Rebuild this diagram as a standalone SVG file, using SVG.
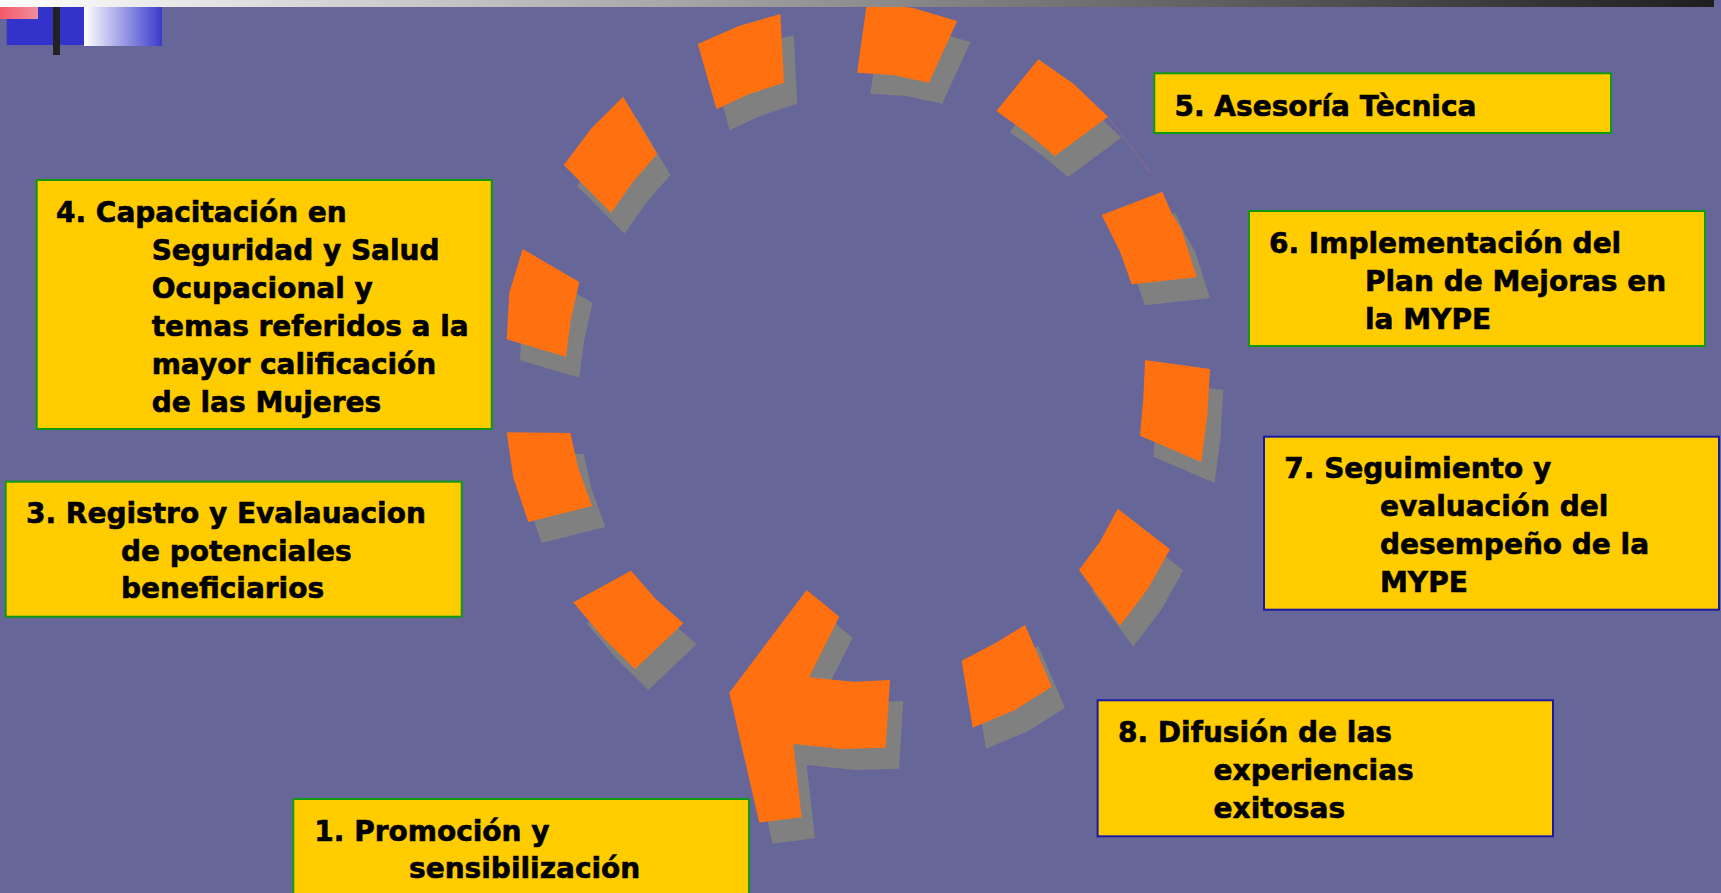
<svg xmlns="http://www.w3.org/2000/svg" xmlns:xlink="http://www.w3.org/1999/xlink" width="1721" height="893" viewBox="0 0 1721 893">
<style>
.bg{fill:#666699}
.box{fill:#ffcc00;stroke:#119911;stroke-width:2}
.box.blue{stroke:#1a1aa0}
.lbl{font-family:"DejaVu Sans","Verdana",sans-serif;font-weight:bold;font-size:28px;fill:#000;stroke:#000;stroke-width:0.6}
.seg{fill:#ff7010}
.shadow{fill:#808080}
</style>
<defs>
<linearGradient id="topbar" x1="0" y1="0" x2="1" y2="0">
<stop offset="0" stop-color="#ffffff"/>
<stop offset="1" stop-color="#1e1e1e"/>
</linearGradient>
<linearGradient id="wblue" x1="0" y1="0" x2="1" y2="0">
<stop offset="0" stop-color="#ffffff"/>
<stop offset="1" stop-color="#3a3acc"/>
</linearGradient>
<linearGradient id="pink" x1="0" y1="0" x2="1" y2="0">
<stop offset="0" stop-color="#f45a68"/>
<stop offset="1" stop-color="#ee8ea0"/>
</linearGradient>
<polygon id="sA" points="623.2,96.7 657.1,154 633,181.7 611.2,212.7 563.8,165 591.5,128.3"/>
<polygon id="sB" points="697.8,44 738.8,26 780.4,14 783.9,82.7 749.1,94 716.5,109.3"/>
<polygon id="sC" points="867,2 913,8 957.1,21 929,82.7 892.9,75 857.1,72.7"/>
<polygon id="sD" points="1038.4,59.3 1073.7,84 1108,116.7 1054.9,156 1026.8,132.7 996.4,111"/>
<polygon id="sE" points="1101.7,215 1162.3,191.7 1171.7,213.3 1181.7,230 1196.7,277.3 1131.7,284.3 1120,251.7"/>
<polygon id="sI" points="1145,360 1210,369 1207.3,415 1201.3,462 1140,435.7 1143.3,398.3"/>
<polygon id="sJ" points="1117.7,508.7 1170,549.3 1148.3,588.3 1120,625.7 1079,570 1100,541.7"/>
<polygon id="sK" points="961.7,660.7 995,643.3 1025,625 1051.7,686.7 1015,710 972.7,727.7"/>
<polygon id="sH" points="573.3,602.3 631,570.7 655,598.3 683.3,623.3 635,669 603.3,637.7"/>
<polygon id="sG" points="506.7,432.3 570.3,433 578.3,468.3 592,506 528.3,522 513.3,477.7"/>
<polygon id="sF" points="522.7,249 579.3,282 570.7,320 566,356.7 506.7,339.3 509.3,292.7"/>
<polygon id="sArrow" points="806.7,590 839.3,616.7 809,677.3 853.3,681.7 890,680 885.7,747.7 841.7,749 793.3,744 801.7,817.3 759.3,822.7 729.3,692.7"/>
</defs>
<rect class="bg" x="0" y="0" width="1721" height="893"/>

<g id="connectors">
<g transform="translate(13.3,21)" class="shadow">
<use xlink:href="#sA"/><use xlink:href="#sB"/><use xlink:href="#sC"/><use xlink:href="#sD"/>
<use xlink:href="#sE"/><use xlink:href="#sI"/><use xlink:href="#sJ"/><use xlink:href="#sK"/>
<use xlink:href="#sH"/><use xlink:href="#sG"/><use xlink:href="#sF"/><use xlink:href="#sArrow"/>
</g>
<g class="seg">
<use xlink:href="#sA"/><use xlink:href="#sB"/><use xlink:href="#sC"/><use xlink:href="#sD"/>
<use xlink:href="#sE"/><use xlink:href="#sI"/><use xlink:href="#sJ"/><use xlink:href="#sK"/>
<use xlink:href="#sH"/><use xlink:href="#sG"/><use xlink:href="#sF"/><use xlink:href="#sArrow"/>
</g>
<line x1="1108" y1="117" x2="1151" y2="173" stroke="#b07080" stroke-width="1" opacity="0.6"/>
</g>

<g id="decor">
<rect x="0" y="0" width="1714" height="7" fill="url(#topbar)"/>
<rect x="6.7" y="7" width="77.3" height="38" fill="#3333cc"/>
<rect x="0" y="7" width="38" height="12" fill="url(#pink)"/>
<rect x="84" y="7" width="78" height="39" fill="url(#wblue)"/>
<rect x="53" y="7" width="7" height="48" fill="#222222"/>
</g>

<g id="node1">
<rect class="box" x="293.3" y="799" width="455.7" height="110"/>
<text class="lbl"><tspan x="314.3" y="841">1. Promoción y</tspan><tspan x="409" y="878.3">sensibilización</tspan></text>
</g>

<g id="node3">
<rect class="box" x="5.7" y="481.7" width="456" height="135"/>
<text class="lbl"><tspan x="26" y="523.3">3. Registro y Evalauacion</tspan><tspan x="121" y="561">de potenciales</tspan><tspan x="121" y="597.7">beneficiarios</tspan></text>
</g>

<g id="node4">
<rect class="box" x="36.7" y="180" width="455" height="249"/>
<text class="lbl"><tspan x="56" y="221.7">4. Capacitación en</tspan><tspan x="151.7" y="259.7">Seguridad y Salud</tspan><tspan x="151.7" y="297.7">Ocupacional y</tspan><tspan x="151.7" y="335.7">temas referidos a la</tspan><tspan x="151.7" y="373.7">mayor calificación</tspan><tspan x="151.7" y="411.7">de las Mujeres</tspan></text>
</g>

<g id="node5">
<rect class="box" x="1154.3" y="73.3" width="456.7" height="59.7"/>
<text class="lbl"><tspan x="1174.5" y="115.5">5. Asesoría Tècnica</tspan></text>
</g>

<g id="node6">
<rect class="box" x="1249" y="211" width="456" height="135"/>
<text class="lbl"><tspan x="1269" y="252.7">6. Implementación del</tspan><tspan x="1365" y="290.7">Plan de Mejoras en</tspan><tspan x="1365" y="328.7">la MYPE</tspan></text>
</g>

<g id="node7">
<rect class="box blue" x="1264" y="436.7" width="455" height="173"/>
<text class="lbl"><tspan x="1284.3" y="478.3">7. Seguimiento y</tspan><tspan x="1380" y="516.3">evaluación del</tspan><tspan x="1380" y="554.3">desempeño de la</tspan><tspan x="1380" y="592.3">MYPE</tspan></text>
</g>

<g id="node8">
<rect class="box blue" x="1097.6" y="700.3" width="455.4" height="136"/>
<text class="lbl"><tspan x="1118" y="742">8. Difusión de las</tspan><tspan x="1213.6" y="780">experiencias</tspan><tspan x="1213.6" y="818">exitosas</tspan></text>
</g>
</svg>
